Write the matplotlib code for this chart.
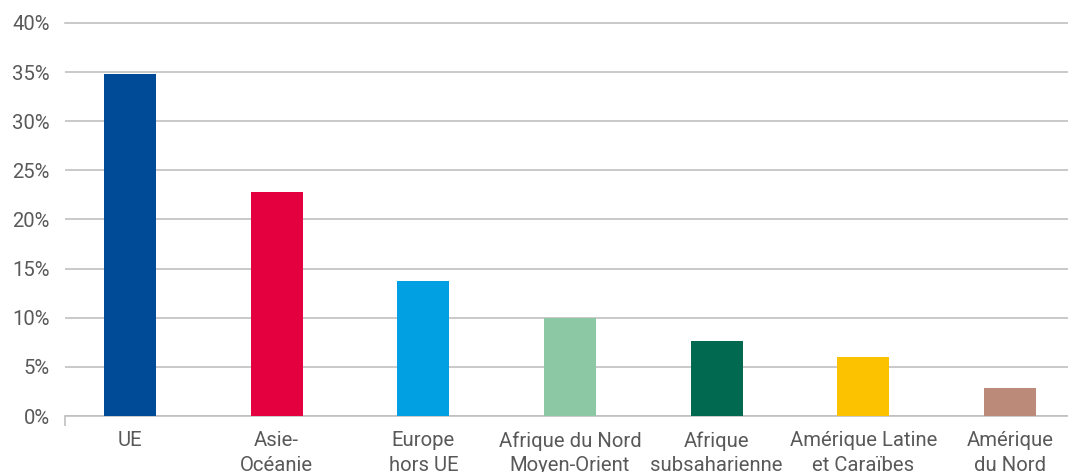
import numpy as np
import matplotlib
matplotlib.use('Agg')
import matplotlib.pyplot as plt

regions = ['UE', 'Asie-\nOcéanie', 'Europe\nhors UE', 'Afrique du Nord\nMoyen-Orient',
           'Afrique\nsubsaharienne', 'Amérique Latine\net Caraïbes', 'Amérique\ndu Nord']
shares = [34.8, 22.8, 13.7, 10.0, 7.6, 6.0, 2.9]
colors = ['#004b98', '#e4003f', '#00a0e3', '#8bc8a3', '#006950', '#fcc200', '#bc8a79']
y_ticks = [0, 5, 10, 15, 20, 25, 30, 35, 40]

plt.rcParams['font.family'] = ['Roboto', 'DejaVu Sans']

fig = plt.figure(figsize=(10.68, 4.72), dpi=100)
ax = fig.add_axes([65 / 1068, 1 - 416 / 472, 1 - 65 / 1068, (416 - 23) / 472])

x = np.arange(len(regions))
ax.bar(x, shares, width=0.355, color=colors, zorder=3)

ax.set_xlim(-0.443, 6.395)
ax.set_ylim(0, 40)
ax.set_yticks(y_ticks)
ax.set_yticklabels([str(v) + '%' for v in y_ticks])
ax.set_xticks(x)
ax.set_xticklabels(regions, linespacing=1.38)

ax.yaxis.grid(True, color='#c0c0c0', linewidth=1.2, zorder=0)
ax.set_axisbelow(True)
for side in ['top', 'right', 'left']:
    ax.spines[side].set_visible(False)
ax.spines['bottom'].set_color('#c0c0c0')
ax.spines['bottom'].set_linewidth(1.2)

ax.tick_params(axis='y', length=0, pad=11, labelsize=14.6, labelcolor='#595959')
ax.tick_params(axis='x', length=0, pad=11, labelsize=14.6, labelcolor='#595959')

# small category tick at the left end of the axis
ax.set_xticks([-0.443], minor=True)
ax.tick_params(axis='x', which='minor', length=7, width=1.2, color='#c0c0c0')

for lbl in ax.get_yticklabels():
    lbl.set_clip_on(False)
ax.yaxis.get_gridlines()[-1].set_clip_on(False)

plt.savefig('out.png', dpi=100)
